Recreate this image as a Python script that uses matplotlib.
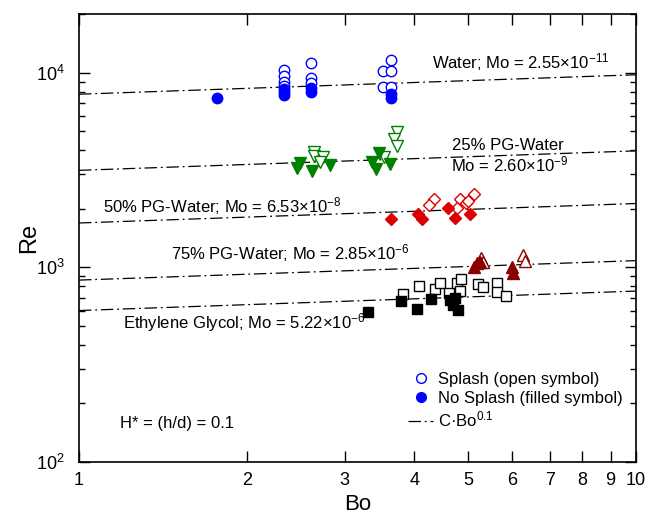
import numpy as np
import matplotlib
matplotlib.use("Agg")
import matplotlib.pyplot as plt
from matplotlib.lines import Line2D
from matplotlib.ticker import LogLocator, LogFormatterMathtext, FixedLocator, FixedFormatter, NullFormatter

plt.rcParams['font.family'] = ['Liberation Sans', 'DejaVu Sans']
plt.rcParams['mathtext.fontset'] = 'custom'
plt.rcParams['mathtext.rm'] = 'Liberation Sans'
plt.rcParams['mathtext.it'] = 'Liberation Sans:italic'
plt.rcParams['mathtext.bf'] = 'Liberation Sans:bold'

# ---- data (Bo, Re) ----
# Water
water_open_bo = [2.335, 2.335, 2.335, 2.335, 2.606, 2.606, 2.606, 3.51, 3.628, 3.628, 3.51, 3.628]
water_open_re = [10320, 9620, 8960, 8550, 11210, 9390, 8850, 10240, 11660, 10240, 8410, 8410]
water_fill_bo = [1.77, 2.335, 2.335, 2.335, 2.606, 2.606, 3.628, 3.628]
water_fill_re = [7410, 8250, 7960, 7680, 8340, 7960, 7780, 7420]

# 25% PG-Water
pg25_open_bo = [2.645, 2.645, 2.746, 2.708, 3.533, 3.719, 3.678, 3.719]
pg25_open_re = [3898, 3732, 3676, 3489, 3676, 4976, 4548, 4201]
pg25_fill_bo = [2.466, 2.493, 2.623, 2.822, 3.354, 3.460, 3.413, 3.617]
pg25_fill_re = [3250, 3422, 3136, 3344, 3489, 3853, 3189, 3396]

# 50% PG-Water
pg50_open_bo = [4.345, 4.255, 4.831, 4.952, 4.766, 5.126, 5.000]
pg50_open_re = [2236, 2090, 2244, 2133, 2025, 2381, 2191]
pg50_fill_bo = [3.628, 4.067, 4.124, 4.603, 4.732, 5.035]
pg50_fill_re = [1764, 1872, 1771, 2011, 1786, 1879]

# 75% PG-Water
pg75_open_bo = [5.262, 5.312, 6.261, 6.320]
pg75_open_re = [1113, 1062, 1157, 1081]
pg75_fill_bo = [5.126, 5.176, 5.247, 5.982, 6.022]
pg75_fill_re = [1007, 1049, 1069, 1000, 931]

# Ethylene Glycol
eg_open_bo = [3.821, 4.083, 4.357, 4.447, 4.622, 4.766, 4.851, 4.831, 5.211, 5.320, 5.637, 5.623, 5.836]
eg_open_re = [727, 801, 774, 828, 741, 828, 868, 755, 818, 795, 828, 744, 715]
eg_fill_bo = [3.306, 3.781, 4.050, 4.285, 4.636, 4.732, 4.688, 4.797]
eg_fill_re = [587, 671, 611, 685, 679, 693, 640, 603]

# fit constants C for Re = C * Bo^0.1
fit_c = [7750, 3150, 1690, 860, 600]
fit_exp = 0.1

fig = plt.figure(figsize=(6.5, 5.27), dpi=100)
ax = fig.add_axes([0.1215, 0.1233, 0.857, 0.850])

groups = [
    (water_open_bo, water_open_re, water_fill_bo, water_fill_re, 'o', '#0000FF', 7.5),
    (pg25_open_bo, pg25_open_re, pg25_fill_bo, pg25_fill_re, 'v', '#008000', 8.5),
    (pg50_open_bo, pg50_open_re, pg50_fill_bo, pg50_fill_re, 'D', '#DD0000', 6.5),
    (pg75_open_bo, pg75_open_re, pg75_fill_bo, pg75_fill_re, '^', '#8B0000', 8.5),
    (eg_open_bo, eg_open_re, eg_fill_bo, eg_fill_re, 's', '#000000', 6.5),
]

dashdot = (0, (10, 3, 1.5, 3))

# fit lines
bo_line = np.array([1.0, 10.0])
for c in fit_c:
    ax.plot(bo_line, c * bo_line ** fit_exp, color='black', lw=0.9,
            linestyle=dashdot, zorder=1)

for ob, orr, fb, fr, mk, col, ms in groups:
    ax.plot(ob, orr, linestyle='none', marker=mk, ms=ms, mfc='white',
            mec=col, mew=1.0, zorder=3)
    ax.plot(fb, fr, linestyle='none', marker=mk, ms=ms, mfc=col,
            mec=col, mew=1.0, zorder=4)

ax.set_xscale('log')
ax.set_yscale('log')
ax.set_xlim(1, 10)
ax.set_ylim(100, 20000)

xt = [1, 2, 3, 4, 5, 6, 7, 8, 9, 10]
ax.xaxis.set_major_locator(FixedLocator(xt))
ax.xaxis.set_major_formatter(FixedFormatter([str(v) for v in xt]))
ax.xaxis.set_minor_locator(FixedLocator([]))
ax.xaxis.set_minor_formatter(NullFormatter())
ax.yaxis.set_major_locator(LogLocator(base=10))
ax.yaxis.set_major_formatter(LogFormatterMathtext())
ax.yaxis.set_minor_locator(LogLocator(base=10, subs=np.arange(2, 10)))
ax.yaxis.set_minor_formatter(NullFormatter())

ax.tick_params(which='both', direction='in', top=True, right=True, labelsize=13, width=1.0)
ax.tick_params(which='major', length=8)
ax.tick_params(which='minor', length=4)
ax.tick_params(axis='x', which='major', pad=7)
ax.tick_params(axis='y', which='major', pad=10)
for s in ax.spines.values():
    s.set_linewidth(1.2)

ax.set_xlabel('Bo', fontsize=16, labelpad=4)
ax.set_ylabel('Re', fontsize=17, labelpad=-3)

fs = 12
ax.text(0.634, 0.893, 'Water; Mo = 2.55×10$^{-11}$', transform=ax.transAxes, fontsize=fs, va='center')
ax.text(0.670, 0.706, '25% PG-Water', transform=ax.transAxes, fontsize=fs, va='center')
ax.text(0.668, 0.664, 'Mo = 2.60×10$^{-9}$', transform=ax.transAxes, fontsize=fs, va='center')
ax.text(0.043, 0.571, '50% PG-Water; Mo = 6.53×10$^{-8}$', transform=ax.transAxes, fontsize=fs, va='center')
ax.text(0.165, 0.466, '75% PG-Water; Mo = 2.85×10$^{-6}$', transform=ax.transAxes, fontsize=fs, va='center')
ax.text(0.079, 0.312, 'Ethylene Glycol; Mo = 5.22×10$^{-6}$', transform=ax.transAxes, fontsize=fs, va='center')
ax.text(0.074, 0.085, 'H* = (h/d) = 0.1', transform=ax.transAxes, fontsize=fs, va='center')

handles = [
    Line2D([], [], linestyle='none', marker='o', ms=7, mfc='white', mec='#0000FF'),
    Line2D([], [], linestyle='none', marker='o', ms=7, mfc='#0000FF', mec='#0000FF'),
    Line2D([], [], color='black', lw=0.9, linestyle=dashdot),
]
labels = ['Splash (open symbol)', 'No Splash (filled symbol)', 'C·Bo$^{0.1}$']
ax.legend(handles, labels, loc='upper left', bbox_to_anchor=(0.57, 0.228), frameon=False,
          fontsize=fs, handlelength=1.5, handletextpad=0.3, labelspacing=0.25, borderpad=0.2)

fig.savefig('out.png', dpi=100)
